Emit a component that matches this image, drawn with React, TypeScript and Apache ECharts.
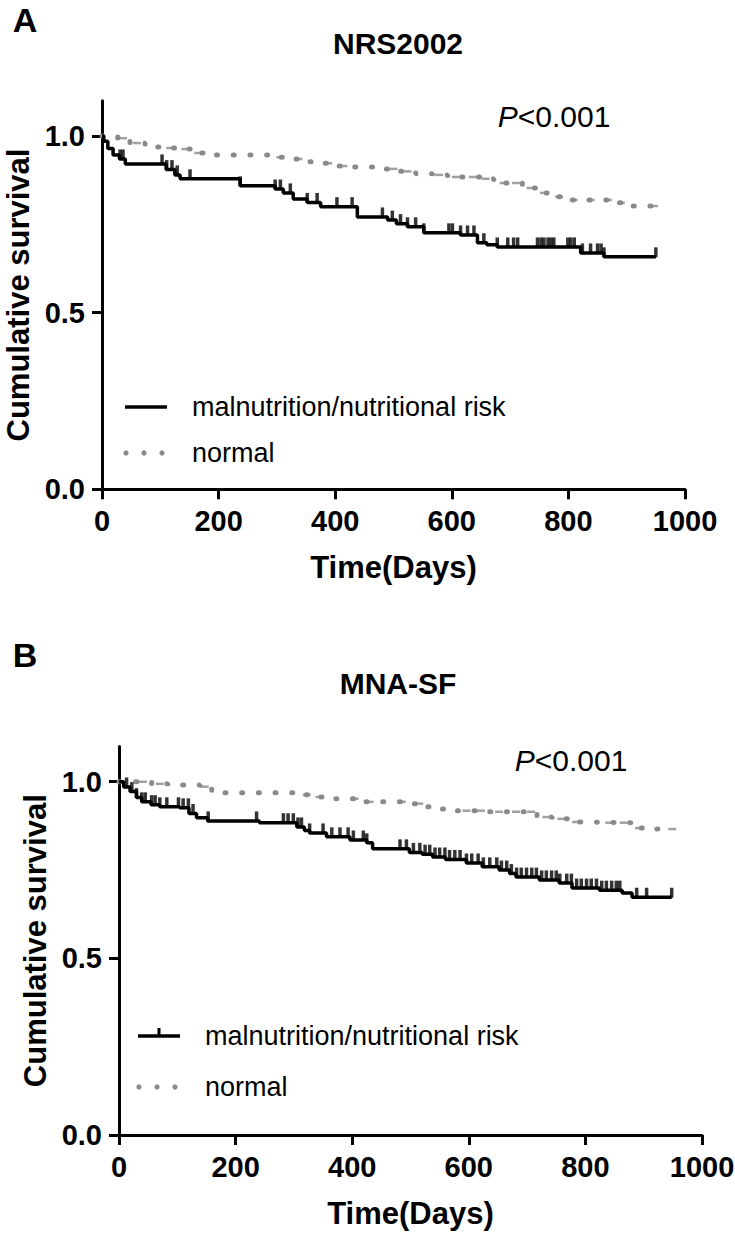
import React, { useEffect, useRef } from "react";
import * as echarts from "echarts";

const FONT = '"Liberation Sans", Arial, Helvetica, sans-serif';

const xTickValues = [0, 200, 400, 600, 800, 1000];
const yTickValues = [0, 0.5, 1.0];
const panelTitles = ["NRS2002", "MNA-SF"];
const panelLetters = ["A", "B"];
const groupNames = ["malnutrition/nutritional risk", "normal"];
const pText = "<0.001";

// Panel A (NRS2002): [day, cumulative survival] after each drop
const nrsMalEvents: [number, number][] = [
  [0, 1.0], [3, 0.985], [10, 0.965], [19, 0.946], [30, 0.935], [40, 0.921],
  [110, 0.905], [125, 0.89], [134, 0.879], [237, 0.859], [297, 0.85], [311, 0.839],
  [328, 0.822], [352, 0.812], [375, 0.8], [438, 0.771], [490, 0.762], [505, 0.752],
  [524, 0.743], [552, 0.726], [615, 0.72], [644, 0.698], [660, 0.692], [678, 0.686],
  [821, 0.669], [861, 0.658], [950, 0.658],
];
const nrsMalCensor = [
  31, 36, 103, 111, 120, 129, 151, 237, 297, 306, 323, 352, 369, 403, 429, 481, 498,
  512, 524, 538, 552, 595, 601, 615, 627, 638, 655, 678, 696, 706, 713, 747, 753, 758,
  765, 770, 775, 799, 804, 810, 824, 838, 850, 856, 861, 950,
];
const nrsNormEvents: [number, number][] = [
  [0, 1.0], [27, 0.994], [48, 0.98], [74, 0.969], [103, 0.966], [130, 0.963],
  [156, 0.952], [180, 0.946], [294, 0.94], [323, 0.935], [349, 0.927], [375, 0.923],
  [400, 0.915], [430, 0.912], [486, 0.907], [512, 0.9], [538, 0.893], [567, 0.89],
  [593, 0.884], [650, 0.879], [672, 0.867], [721, 0.853], [747, 0.839], [770, 0.828],
  [795, 0.819], [878, 0.811], [904, 0.802], [953, 0.802],
];
const nrsNormCensor = [
  36, 60, 117, 143, 165, 306, 337, 388, 414, 500, 524, 578, 607, 636, 658, 689, 710,
  735, 758, 784, 809, 838, 868, 890, 947,
];

// Panel B (MNA-SF)
const mnaMalEvents: [number, number][] = [
  [0, 1.0], [8, 0.985], [19, 0.972], [30, 0.955], [39, 0.943], [55, 0.935], [70, 0.929],
  [104, 0.926], [120, 0.91], [133, 0.898], [152, 0.889], [241, 0.884], [305, 0.872],
  [318, 0.862], [327, 0.855], [356, 0.844], [396, 0.835], [425, 0.827], [435, 0.81],
  [498, 0.8], [520, 0.795], [538, 0.787], [560, 0.78], [596, 0.77], [623, 0.759],
  [652, 0.75], [670, 0.74], [681, 0.73], [721, 0.722], [755, 0.713], [777, 0.699],
  [824, 0.693], [863, 0.685], [880, 0.673], [948, 0.673],
];
const mnaMalCensor = [
  13, 22, 30, 39, 45, 56, 62, 70, 82, 102, 110, 119, 127, 153, 236, 282, 290, 299, 307,
  313, 327, 350, 365, 379, 393, 402, 419, 425, 482, 493, 505, 516, 525, 533, 542, 550,
  559, 567, 576, 585, 596, 605, 616, 625, 636, 648, 656, 665, 673, 682, 690, 699, 708,
  716, 725, 733, 742, 750, 756, 768, 776, 785, 793, 802, 810, 819, 828, 836, 845, 853,
  859, 888, 905, 948,
];
const mnaNormEvents: [number, number][] = [
  [0, 1.0], [56, 0.994], [84, 0.991], [139, 0.986], [159, 0.969], [306, 0.963],
  [332, 0.957], [358, 0.952], [413, 0.943], [493, 0.938], [527, 0.929], [553, 0.923],
  [579, 0.918], [635, 0.915], [717, 0.9], [743, 0.895], [772, 0.886], [795, 0.884],
  [878, 0.869], [906, 0.866], [948, 0.866],
];
const mnaNormCensor = [
  41, 70, 147, 322, 344, 404, 430, 485, 515, 596, 621, 652, 681, 707, 733, 759, 784,
  841, 866, 892, 949,
];

function survivalAt(events: [number, number][], day: number): number {
  let s = events[0][1];
  for (const [d, v] of events) {
    if (d <= day) s = v;
    else break;
  }
  return s;
}

const BLACK = "#000000";
const GREY = "#8a8a8a";

function panelSeries(
  idx: number,
  malEvents: [number, number][],
  malCensor: number[],
  normEvents: [number, number][],
  normCensor: number[]
) {
  return [
    {
      name: groupNames[1],
      type: "line",
      xAxisIndex: idx,
      yAxisIndex: idx,
      step: "end",
      data: normEvents,
      symbol: "none",
      lineStyle: { color: GREY, width: 5, type: [1, 15.7], cap: "round" },
      z: 2,
    },
    {
      name: groupNames[1] + " censored",
      type: "scatter",
      xAxisIndex: idx,
      yAxisIndex: idx,
      data: normCensor.map((d) => [d, survivalAt(normEvents, d)]),
      symbol: "rect",
      symbolSize: [8, 2.5],
      itemStyle: { color: GREY },
      z: 3,
    },
    {
      name: groupNames[0],
      type: "line",
      xAxisIndex: idx,
      yAxisIndex: idx,
      step: "end",
      data: malEvents,
      symbol: "none",
      lineStyle: { color: BLACK, width: 3.5 },
      z: 4,
    },
    {
      name: groupNames[0] + " censored",
      type: "scatter",
      xAxisIndex: idx,
      yAxisIndex: idx,
      data: malCensor.map((d) => [d, survivalAt(malEvents, d)]),
      symbol: "rect",
      symbolSize: [3.5, 10],
      symbolOffset: [0, -4.5],
      itemStyle: { color: BLACK },
      z: 5,
    },
  ];
}

function xAxisFor(idx: number) {
  return {
    gridIndex: idx,
    type: "value",
    min: 0,
    max: 1000,
    interval: 200,
    name: "Time(Days)",
    nameLocation: "middle",
    nameGap: 63,
    nameTextStyle: { fontFamily: FONT, fontSize: 31, fontWeight: "bold", color: BLACK },
    axisLine: { show: true, onZero: false, lineStyle: { color: BLACK, width: 3 } },
    axisTick: { show: true, length: 10, inside: false, lineStyle: { color: BLACK, width: 3 } },
    axisLabel: {
      fontFamily: FONT,
      fontSize: 29,
      fontWeight: "bold",
      color: BLACK,
      margin: 17,
      customValues: xTickValues,
      formatter: (v: number) => String(v),
    },
    splitLine: { show: false },
  };
}

function yAxisFor(idx: number) {
  return {
    gridIndex: idx,
    type: "value",
    min: 0,
    max: 1.1,
    interval: 0.5,
    name: "Cumulative survival",
    nameLocation: "middle",
    nameGap: 68,
    nameTextStyle: { fontFamily: FONT, fontSize: 31, fontWeight: "bold", color: BLACK },
    axisLine: { show: true, onZero: false, lineStyle: { color: BLACK, width: 3 } },
    axisTick: {
      show: true,
      length: 10,
      inside: false,
      customValues: yTickValues,
      lineStyle: { color: BLACK, width: 3 },
    },
    axisLabel: {
      fontFamily: FONT,
      fontSize: 29,
      fontWeight: "bold",
      color: BLACK,
      margin: 17,
      customValues: yTickValues,
      formatter: (v: number) => v.toFixed(1),
    },
    splitLine: { show: false },
  };
}

function legendGraphics(
  lineX: number,
  textX: number,
  y1: number,
  y2: number,
  withTick: boolean
) {
  const els: any[] = [
    {
      type: "line",
      shape: { x1: lineX, y1: y1, x2: lineX + 42, y2: y1 },
      style: { stroke: BLACK, lineWidth: 3.5 },
    },
    {
      type: "text",
      x: textX,
      y: y1,
      style: {
        text: groupNames[0],
        fontFamily: FONT,
        fontSize: 27,
        fill: BLACK,
        align: "left",
        verticalAlign: "middle",
      },
    },
    {
      type: "text",
      x: textX,
      y: y2,
      style: {
        text: groupNames[1],
        fontFamily: FONT,
        fontSize: 27,
        fill: BLACK,
        align: "left",
        verticalAlign: "middle",
      },
    },
  ];
  if (withTick) {
    els.push({
      type: "rect",
      shape: { x: lineX + 19.5, y: y1 - 8, width: 3, height: 8 },
      style: { fill: BLACK },
    });
  }
  [0, 18, 36].forEach((dx) => {
    els.push({
      type: "circle",
      shape: { cx: lineX + 1 + dx, cy: y2, r: 2.6 },
      style: { fill: GREY },
    });
  });
  return els;
}

function pGraphic(x: number, y: number) {
  return {
    type: "text",
    x,
    y,
    style: {
      text: "{i|P}" + pText,
      fontFamily: FONT,
      fontSize: 30,
      fill: BLACK,
      align: "center",
      verticalAlign: "middle",
      rich: {
        i: { fontFamily: FONT, fontSize: 30, fontStyle: "italic", fill: BLACK },
      },
    },
  };
}

function letterGraphic(letter: string, x: number, y: number) {
  return {
    type: "text",
    x,
    y,
    style: {
      text: letter,
      fontFamily: FONT,
      fontSize: 34,
      fontWeight: "bold",
      fill: BLACK,
      align: "center",
      verticalAlign: "middle",
    },
  };
}

export default function App() {
  const ref = useRef<HTMLDivElement>(null);

  useEffect(() => {
    document.body.style.margin = "0";
    if (!ref.current) return;
    const chart = echarts.init(ref.current, undefined, { renderer: "svg" });
    const option: any = {
      animation: false,
      backgroundColor: "#ffffff",
      title: [
        {
          text: panelTitles[0],
          left: 393,
          top: 23,
          textAlign: "center",
          textStyle: { fontFamily: FONT, fontSize: 30, fontWeight: "bold", color: BLACK },
        },
        {
          text: panelTitles[1],
          left: 393,
          top: 663,
          textAlign: "center",
          textStyle: { fontFamily: FONT, fontSize: 30, fontWeight: "bold", color: BLACK },
        },
      ],
      grid: [
        {
          left: 102,
          top: 100.7,
          width: 583,
          height: 388.6,
          containLabel: false,
          outerBoundsMode: "none",
        },
        {
          left: 119,
          top: 746.4,
          width: 583,
          height: 388.6,
          containLabel: false,
          outerBoundsMode: "none",
        },
      ],
      xAxis: [xAxisFor(0), xAxisFor(1)],
      yAxis: [yAxisFor(0), yAxisFor(1)],
      series: [
        ...panelSeries(0, nrsMalEvents, nrsMalCensor, nrsNormEvents, nrsNormCensor),
        ...panelSeries(1, mnaMalEvents, mnaMalCensor, mnaNormEvents, mnaNormCensor),
      ],
      graphic: [
        letterGraphic(panelLetters[0], 25, 20),
        letterGraphic(panelLetters[1], 25, 655),
        pGraphic(554, 116),
        pGraphic(571, 760),
        ...legendGraphics(125, 192, 407, 453, false),
        ...legendGraphics(138, 205, 1036, 1087, true),
      ],
    };
    chart.setOption(option);
    return () => chart.dispose();
  }, []);

  return <div ref={ref} style={{ width: 735, height: 1238 }} />;
}
